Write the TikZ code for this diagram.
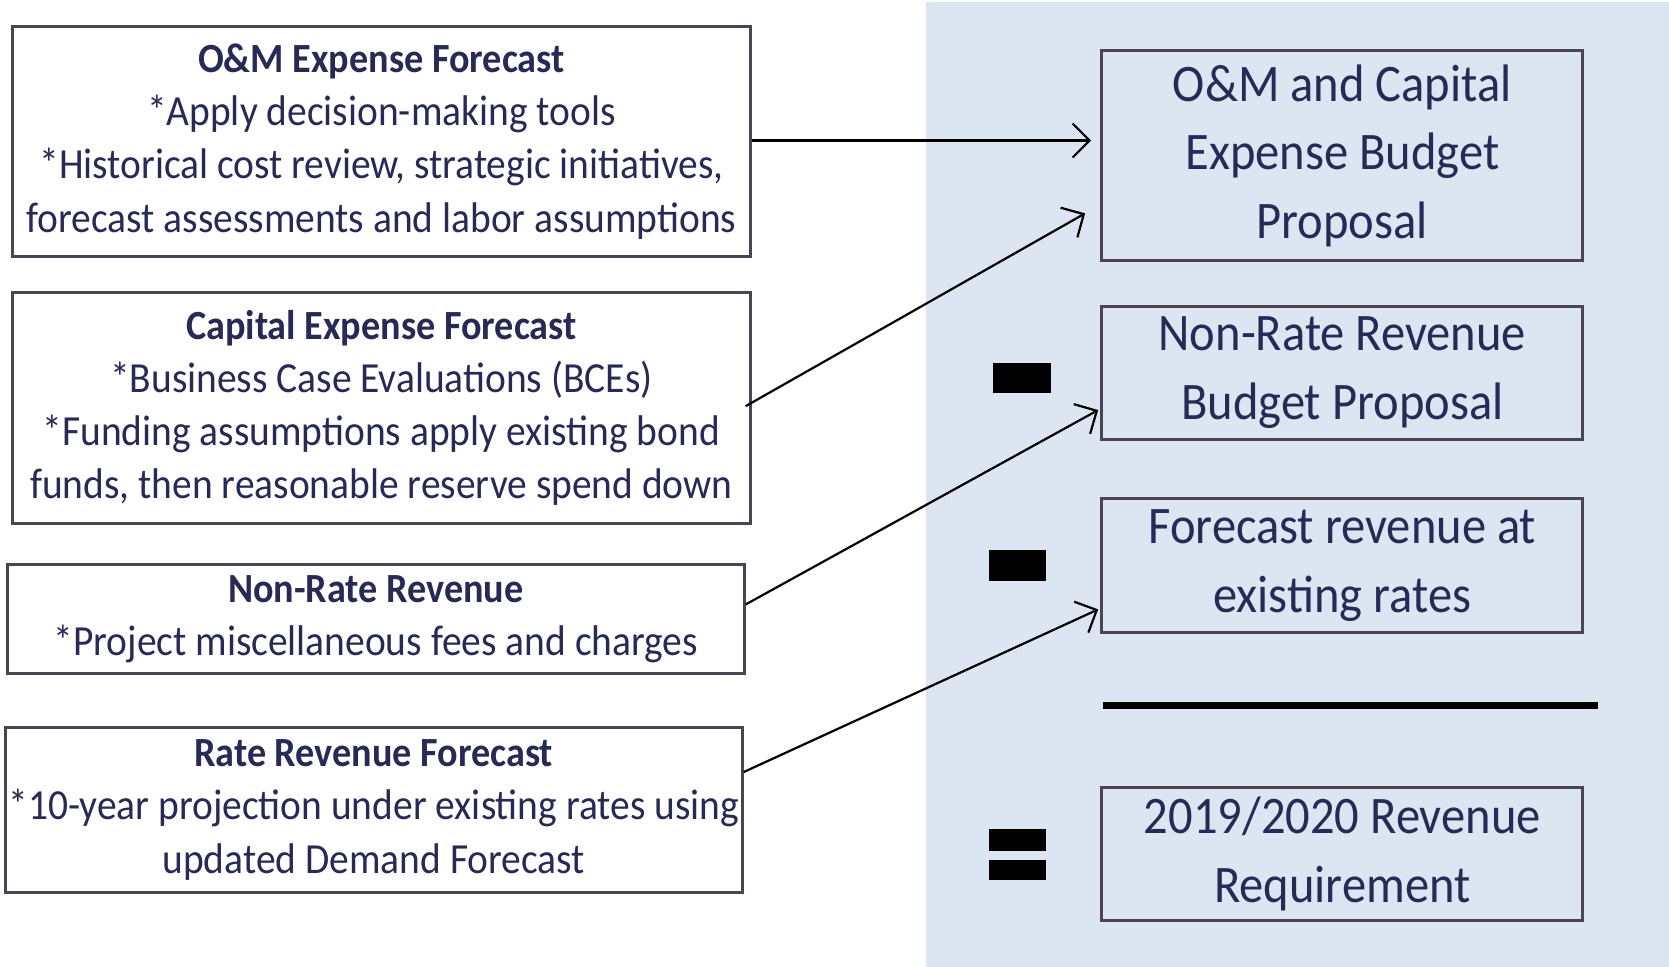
\documentclass[tikz,border=0pt]{standalone}
\usepackage{fontspec}
\setmainfont{Carlito}[FakeStretch=0.92]
\usepackage{xcolor}
\usetikzlibrary{positioning, arrows.meta, calc}
\definecolor{navytext}{HTML}{262A55}
\definecolor{boxline}{HTML}{4B4453}
\definecolor{panelblue}{HTML}{DCE6F2}
\tikzset{
    leftbox/.style={draw=boxline, line width=0.03cm, fill=white, text=navytext, inner sep=0pt, align=center, font=\fontsize{12.2}{15.1}\selectfont}, % input boxes
    rightbox/.style={draw=boxline, line width=0.03cm, text=navytext, inner sep=0pt, align=center, font=\fontsize{15}{19.6}\selectfont}, % budget boxes
    boxtitle/.style={font=\fontsize{11.8}{15.1}\selectfont\bfseries},
    opbar/.style={fill=black, draw=none}, % minus and equal bars
}
\tikzstyle{arrow} = [line width=0.022cm, -{Straight Barb[length=0.17cm, width=0.34cm]}]
\newcommand{\boxhead}[1]{{\fontsize{11.8}{15.1}\selectfont\bfseries #1}}

\begin{document}
\begin{tikzpicture}[x=0.01cm, y=-0.01cm]
            \useasboundingbox (0,0) rectangle (1669,967);
            % Background panel
            \fill[panelblue] (926,2) rectangle (1669,967);

            % Inputs
            \node[leftbox, minimum width=7.37cm, minimum height=2.30cm] (omexp) at (381.4,141.5)
                {\boxhead{O\&M Expense Forecast}\\*Apply decision-making tools\\*Historical cost review, strategic initiatives,\\forecast assessments and labor assumptions};
            \node[leftbox, minimum width=7.37cm, minimum height=2.31cm] (capexp) at (381.4,408.2)
                {\boxhead{Capital Expense Forecast}\\*Business Case Evaluations (BCEs)\\*Funding assumptions apply existing bond\\funds, then reasonable reserve spend down};
            \node[leftbox, minimum width=7.365cm, minimum height=1.088cm] (nonrate) at (375.8,619.4)
                {\boxhead{Non-Rate Revenue}\\*Project miscellaneous fees and charges};
            \node[leftbox, minimum width=7.367cm, minimum height=1.64cm] (raterev) at (373.7,810)
                {\boxhead{Rate Revenue Forecast}\\*10-year projection under existing rates using\\updated Demand Forecast};

            % Budget
            \node[rightbox, minimum width=4.81cm, minimum height=2.098cm] (budget) at (1342.3,155.9)
                {O\&M and Capital\\Expense Budget\\Proposal};
            \node[rightbox, minimum width=4.81cm, minimum height=1.33cm] (nrbudget) at (1342.3,373)
                {Non-Rate Revenue\\Budget Proposal};
            \node[rightbox, minimum width=4.81cm, minimum height=1.343cm] (existing) at (1342.3,565.2)
                {Forecast revenue at\\existing rates};
            \node[rightbox, minimum width=4.81cm, minimum height=1.33cm] (requirement) at (1342.3,854.2)
                {2019/2020 Revenue\\Requirement};

            % Operators
            \fill[opbar] (993,363) rectangle (1050.6,392.8);
            \fill[opbar] (988.8,550.3) rectangle (1046.3,581.2);
            \fill[opbar] (988.8,829) rectangle (1046.3,850.5);
            \fill[opbar] (988.8,860) rectangle (1046.3,880.3);
            \draw[line width=0.064cm] (1102.7,705.7) -- (1597.7,705.7);

            % Arrows
            \draw[arrow, shorten >=0.09cm] ($(omexp.east)+(0,-1)$) -- ($(omexp.east -| budget.west)+(0,-1)$);
            \draw[arrow] ($(capexp.east)+(-6,-2)$) -- ($(budget.south west)+(-15,-49)$);
            \draw[arrow] (nonrate.east) ++(0,-15) -- ($(nrbudget.south west)+(-2,-31)$);
            \draw[arrow] ($(raterev.east)+(0,-38)$) -- ($(existing.south west)+(-2,-24.5)$);
        \end{tikzpicture}
\end{document}
